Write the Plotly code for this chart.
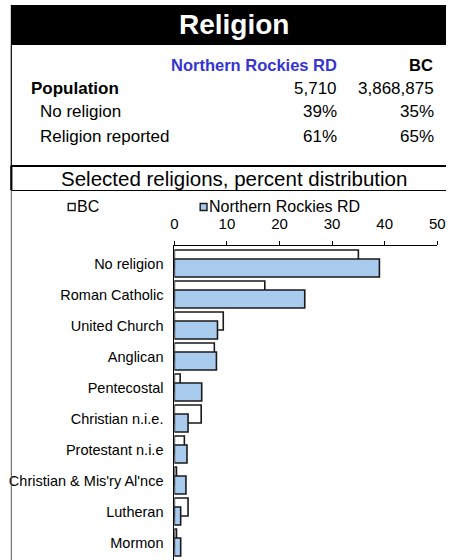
import plotly.graph_objects as go

W, H = 454, 560

categories = ["No religion", "Roman Catholic", "United Church", "Anglican", "Pentecostal",
              "Christian n.i.e.", "Protestant n.i.e", "Christian & Mis'ry Al'nce",
              "Lutheran", "Mormon"]
bc_values = [35.0, 17.2, 9.3, 7.6, 1.1, 5.1, 1.9, 0.4, 2.6, 0.4]
nr_values = [39.0, 24.8, 8.2, 8.0, 5.2, 2.6, 2.4, 2.2, 1.2, 1.2]
x_ticks = [0, 10, 20, 30, 40, 50]

region_name = "Northern Rockies RD"
province_name = "BC"
summary_rows = ["Population", "No religion", "Religion reported"]
summary_region = ["5,710", "39%", "61%"]
summary_province = ["3,868,875", "35%", "65%"]


def px(x):
    return x / W


def py(y):
    return 1 - y / H


FONT = "Arial, Liberation Sans, sans-serif"

fig = go.Figure()
fig.add_trace(go.Bar(
    y=categories, x=bc_values, orientation="h", name=province_name,
    width=0.58, offset=-0.435,
    marker=dict(color="#FFFFFF", line=dict(color="#1a1a1a", width=1.6)),
))
fig.add_trace(go.Bar(
    y=categories, x=nr_values, orientation="h", name=region_name,
    width=0.58, offset=-0.145,
    marker=dict(color="#A8CBEE", line=dict(color="#1a1a1a", width=1.6)),
))

shapes = [
    # title band
    dict(type="rect", xref="paper", yref="paper", x0=px(7), x1=px(454), y0=py(45), y1=py(5),
         fillcolor="black", line=dict(width=0)),
    # left border of table
    dict(type="line", xref="paper", yref="paper", x0=px(7.5), x1=px(7.5), y0=py(45), y1=py(166),
         line=dict(color="black", width=1.2)),
    # thick divider
    dict(type="line", xref="paper", yref="paper", x0=px(7), x1=px(454), y0=py(166), y1=py(166),
         line=dict(color="black", width=2.2)),
    dict(type="line", xref="paper", yref="paper", x0=px(7.5), x1=px(7.5), y0=py(166), y1=py(190),
         line=dict(color="black", width=2.2)),
    dict(type="line", xref="paper", yref="paper", x0=px(7), x1=px(454), y0=py(190.5), y1=py(190.5),
         line=dict(color="black", width=1)),
    dict(type="line", xref="paper", yref="paper", x0=px(7.5), x1=px(7.5), y0=py(190), y1=py(560),
         line=dict(color="#555555", width=1)),
    # legend swatches
    dict(type="rect", xref="paper", yref="paper", x0=px(66), x1=px(73), y0=py(210.5), y1=py(203.5),
         fillcolor="#FFFFFF", line=dict(color="#1a1a1a", width=1.4)),
    dict(type="rect", xref="paper", yref="paper", x0=px(201.5), x1=px(208.5), y0=py(210.5), y1=py(203.5),
         fillcolor="#A8CBEE", line=dict(color="#1a1a1a", width=1.4)),
]

ann = []
ann.append(dict(text="<b>Religion</b>", x=px(236), y=py(25), xref="paper", yref="paper",
                showarrow=False, xanchor="center", yanchor="middle",
                font=dict(family=FONT, size=28, color="white")))
ann.append(dict(text="<b>%s</b>" % region_name, x=px(344), y=py(65), xref="paper", yref="paper",
                showarrow=False, xanchor="right", yanchor="middle",
                font=dict(family=FONT, size=16.5, color="#3535D0")))
ann.append(dict(text="<b>%s</b>" % province_name, x=px(443), y=py(65), xref="paper", yref="paper",
                showarrow=False, xanchor="right", yanchor="middle",
                font=dict(family=FONT, size=16.5, color="black")))
row_y = [88, 112, 136]
row_x = [28, 37, 37]
for i, lab in enumerate(summary_rows):
    txt = "<b>%s</b>" % lab if i == 0 else lab
    ann.append(dict(text=txt, x=px(row_x[i] - 2), y=py(row_y[i]), xref="paper", yref="paper",
                    showarrow=False, xanchor="left", yanchor="middle",
                    font=dict(family=FONT, size=17, color="black")))
    ann.append(dict(text=summary_region[i], x=px(344), y=py(row_y[i]), xref="paper", yref="paper",
                    showarrow=False, xanchor="right", yanchor="middle",
                    font=dict(family=FONT, size=17, color="black")))
    ann.append(dict(text=summary_province[i], x=px(444), y=py(row_y[i]), xref="paper", yref="paper",
                    showarrow=False, xanchor="right", yanchor="middle",
                    font=dict(family=FONT, size=17, color="black")))
ann.append(dict(text="Selected religions, percent distribution", x=px(236.5), y=py(178.5),
                xref="paper", yref="paper", showarrow=False, xanchor="center", yanchor="middle",
                font=dict(family=FONT, size=20.5, color="black")))
ann.append(dict(text=province_name, x=px(73), y=py(206), xref="paper", yref="paper",
                showarrow=False, xanchor="left", yanchor="middle",
                font=dict(family=FONT, size=16, color="black")))
ann.append(dict(text=region_name, x=px(208.5), y=py(206), xref="paper", yref="paper",
                showarrow=False, xanchor="left", yanchor="middle",
                font=dict(family=FONT, size=16, color="black")))

fig.update_layout(
    width=W, height=H,
    margin=dict(l=0, r=0, t=0, b=0),
    paper_bgcolor="white", plot_bgcolor="white",
    barmode="overlay",
    showlegend=False,
    shapes=shapes,
    annotations=ann,
    font=dict(family=FONT, color="black"),
    xaxis=dict(
        domain=[px(175), px(445)], range=[0, 50], side="top",
        tickvals=x_ticks, ticktext=[str(t) for t in x_ticks],
        showgrid=False, zeroline=False,
        showline=True, linecolor="black", linewidth=1,
        ticks="outside", ticklen=4, tickcolor="black", tickwidth=1,
        tickfont=dict(family=FONT, size=15, color="black"),
        ticklabelstandoff=6,
        fixedrange=True,
    ),
    yaxis=dict(
        domain=[0, py(246)],
        type="category", categoryorder="array", categoryarray=categories,
        range=[9.565, -0.565],
        showgrid=False, zeroline=False,
        showline=True, linecolor="black", linewidth=1,
        ticks="", tickfont=dict(family=FONT, size=14.5, color="black"),
        ticklabelstandoff=7,
        fixedrange=True,
    ),
)

fig.write_html(
    "out.html",
    config={"displayModeBar": False},
    post_script="document.body.style.margin='0';document.body.style.overflow='hidden';",
)
